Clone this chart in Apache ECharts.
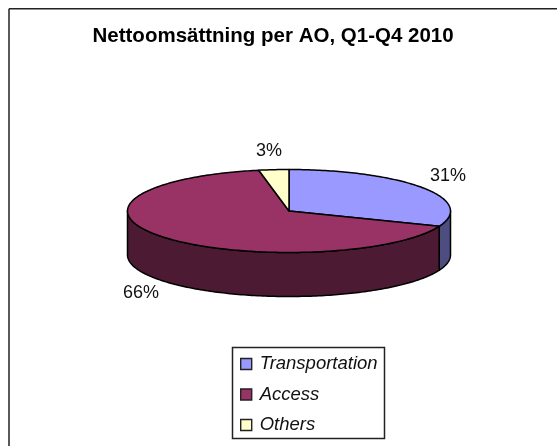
<!DOCTYPE html>
<html><head><meta charset="utf-8">
<style>html,body{margin:0;padding:0;background:#fff}#c{width:557px;height:446px}</style>
<script src="https://cdn.jsdelivr.net/npm/echarts@6/dist/echarts.min.js"></script>
</head><body><div id="c"></div>
<script>
const chartTitle = 'Nettoomsättning per AO, Q1-Q4 2010';
const categories = ['Transportation', 'Access', 'Others'];
const values = [31, 66, 3];
const topColors = ['#9999FF', '#993366', '#FFFFCC'];
const sideColors = ['#4D4D80', '#4D1A33', '#80806A'];

const FONT = '"Liberation Sans", Arial, sans-serif';
const pie = {cx: 289, cy: 211, rx: 161.5, ry: 41.5, depth: 44};
const labelPos = [[448, 176], [141, 293.5], [269, 151]];
const total = values.reduce((a, b) => a + b, 0);

function pt(frac, dy) {
  const t = frac * 2 * Math.PI;
  return [pie.cx + pie.rx * Math.sin(t), pie.cy - pie.ry * Math.cos(t) + (dy || 0)];
}
function arc(f0, f1, dy) {
  const n = Math.max(2, Math.ceil((f1 - f0) * 360));
  const out = [];
  for (let i = 0; i <= n; i++) out.push(pt(f0 + (f1 - f0) * i / n, dy));
  return out;
}
function renderSlice(idx) {
  return function (params, api) {
    const v = api.value(0);
    let before = 0;
    for (let i = 0; i < idx; i++) before += values[i];
    const f0 = before / total, f1 = f0 + v / total;
    const children = [];
    const s0 = Math.max(f0, 0.25), s1 = Math.min(f1, 0.75);
    const stroke = {stroke: '#000', lineWidth: 1.5, lineJoin: 'round'};
    if (s1 > s0) {
      children.push({type: 'polygon',
        shape: {points: arc(s0, s1, 0).concat(arc(s0, s1, pie.depth).reverse())},
        style: Object.assign({fill: sideColors[idx]}, stroke)});
    }
    children.push({type: 'polygon',
      shape: {points: [[pie.cx, pie.cy]].concat(arc(f0, f1, 0))},
      style: Object.assign({fill: topColors[idx]}, stroke)});
    children.push({type: 'text',
      style: {x: labelPos[idx][0], y: labelPos[idx][1], text: Math.round(v / total * 100) + '%',
        font: '18px ' + FONT, fill: '#111', textAlign: 'center', textVerticalAlign: 'middle'}});
    return {type: 'group', children};
  };
}

const chart = echarts.init(document.getElementById('c'), null, {renderer: 'canvas'});
chart.setOption({
  animation: false,
  backgroundColor: '#fff',
  title: {text: chartTitle, left: 92.5, top: 26, padding: 0,
    textStyle: {fontFamily: FONT, fontSize: 20.5, fontWeight: 'bold', color: '#000'}},
  graphic: [
    {type: 'line', silent: true, shape: {x1: 9, y1: 8.75, x2: 557, y2: 8.75}, style: {stroke: '#222', lineWidth: 1.5}},
    {type: 'line', silent: true, shape: {x1: 9, y1: 8.75, x2: 9, y2: 446}, style: {stroke: '#222', lineWidth: 1.5}},
    {type: 'rect', silent: true, z: -1, shape: {x: 232.5, y: 347.5, width: 152, height: 91},
      style: {fill: '#fff', stroke: '#222', lineWidth: 1.5}}
  ],
  legend: {
    orient: 'vertical', left: 240, top: 354, padding: 0, itemGap: 10.5,
    itemWidth: 11, itemHeight: 11, selectedMode: false, icon: 'rect',
    textStyle: {fontFamily: FONT, fontSize: 18.5, fontStyle: 'italic', color: '#111', padding: [0, 0, 0, 3], lineHeight: 20},
    data: categories.map((name, i) => ({name, itemStyle: {color: topColors[i], borderColor: '#222', borderWidth: 1.4}}))
  },
  series: categories.map((name, i) => ({
    type: 'custom', name, coordinateSystem: 'none', silent: true, clip: false,
    renderItem: renderSlice(i),
    data: [[values[i]]],
    itemStyle: {color: topColors[i]}
  }))
});
</script></body></html>
